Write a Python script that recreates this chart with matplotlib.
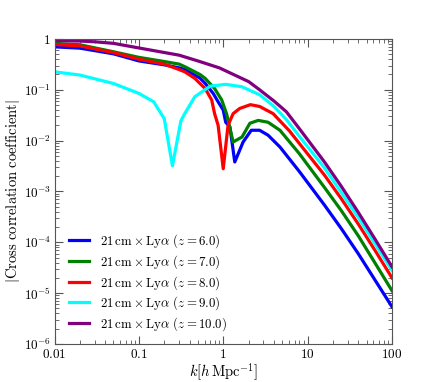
import numpy as np
import matplotlib
matplotlib.use("Agg")
import matplotlib.pyplot as plt
from matplotlib.ticker import FixedLocator, FixedFormatter, LogLocator, NullFormatter

plt.rcParams["mathtext.fontset"] = "cm"
plt.rcParams["font.family"] = "serif"
plt.rcParams["font.serif"] = ["DejaVu Serif"]

# values (|cross correlation coefficient| vs k)
k_z6 = [0.01, 0.02, 0.05, 0.1, 0.2, 0.3, 0.35, 0.53, 0.61, 0.76, 0.87, 1.0, 1.07, 1.2, 1.37,
        1.72, 2.15, 2.7, 3.4, 4.7, 7.94, 15.85, 25.1, 39.8, 63.1, 100]
cc_z6 = [0.70, 0.66, 0.51, 0.37, 0.31, 0.27, 0.25, 0.17, 0.134, 0.085, 0.058, 0.04, 0.023,
         0.0186, 0.0038, 0.0094, 0.016, 0.016, 0.0128, 0.0075, 2.5e-3, 5.4e-4, 1.86e-4,
         6.0e-5, 1.8e-5, 5.4e-6]

k_z7 = [0.01, 0.02, 0.05, 0.1, 0.2, 0.3, 0.35, 0.53, 0.61, 0.79, 0.96, 1.1, 1.31, 1.67, 2.07,
        2.6, 3.4, 4.7, 7.94, 15.85, 25.1, 39.8, 63.1, 100]
cc_z7 = [0.82, 0.77, 0.56, 0.435, 0.36, 0.32, 0.285, 0.2, 0.168, 0.106, 0.063, 0.033, 0.0094,
         0.0118, 0.022, 0.025, 0.023, 0.016, 5.6e-3, 1.2e-3, 4.2e-4, 1.35e-4, 3.9e-5, 1.12e-5]

k_z8 = [0.01, 0.02, 0.05, 0.1, 0.2, 0.3, 0.35, 0.46, 0.61, 0.73, 0.79, 0.87, 1.0, 1.14, 1.31,
        1.57, 2.1, 2.7, 3.9, 6.1, 7.94, 15.85, 25.1, 39.8, 63.1, 100]
cc_z8 = [0.78, 0.73, 0.54, 0.40, 0.32, 0.25, 0.226, 0.168, 0.106, 0.063, 0.034, 0.02, 0.0028,
         0.02, 0.034, 0.043, 0.051, 0.047, 0.034, 0.0155, 8.9e-3, 2.1e-3, 7.2e-4, 2.3e-4,
         6.9e-5, 2.0e-5]

k_z9 = [0.01, 0.02, 0.05, 0.1, 0.15, 0.2, 0.25, 0.315, 0.35, 0.46, 0.7, 1.07, 1.66, 2.7,
        4.0, 5.6, 7.94, 15.85, 25.1, 39.8, 63.1, 100]
cc_z9 = [0.226, 0.195, 0.133, 0.085, 0.058, 0.027, 0.0032, 0.0245, 0.034, 0.073, 0.118,
         0.128, 0.115, 0.08, 0.047, 0.026, 0.0123, 2.9e-3, 9.5e-4, 3.1e-4, 9.3e-5, 2.8e-5]

k_z10 = [0.01, 0.02, 0.03, 0.05, 0.12, 0.3, 0.5, 0.9, 2.0, 2.7, 4.0, 5.6, 7.94, 15.85, 25.1,
         39.8, 63.1, 100]
cc_z10 = [0.93, 0.91, 0.88, 0.82, 0.63, 0.48, 0.37, 0.27, 0.145, 0.10, 0.06, 0.037, 0.0174,
          3.8e-3, 1.26e-3, 3.9e-4, 1.15e-4, 3.3e-5]

series = [
    (k_z6, cc_z6, "blue", "6.0"),
    (k_z7, cc_z7, "green", "7.0"),
    (k_z8, cc_z8, "red", "8.0"),
    (k_z9, cc_z9, "cyan", "9.0"),
    (k_z10, cc_z10, "purple", "10.0"),
]

x_ticks = [0.01, 0.1, 1, 10, 100]
x_labels = [r"$0.01$", r"$0.1$", r"$1$", r"$10$", r"$100$"]
y_ticks = [1e-6, 1e-5, 1e-4, 1e-3, 1e-2, 1e-1, 1]
y_labels = [r"$10^{-6}$", r"$10^{-5}$", r"$10^{-4}$", r"$10^{-3}$", r"$10^{-2}$",
            r"$10^{-1}$", r"$1$"]

fig = plt.figure(figsize=(4.36, 3.82), dpi=100)
ax = fig.add_axes([0.125, 0.0995, 0.774, 0.7985])

for k, cc, color, z in series:
    ax.plot(k, cc, color=color, lw=2.3,
            label=r"$21\,\mathrm{cm}\times\mathrm{Ly}\alpha\ (z=%s)$" % z)

ax.set_xscale("log")
ax.set_yscale("log")
ax.set_xlim(0.01, 100)
ax.set_ylim(1e-6, 1)

ax.xaxis.set_major_locator(FixedLocator(x_ticks))
ax.xaxis.set_major_formatter(FixedFormatter(x_labels))
ax.yaxis.set_major_locator(FixedLocator(y_ticks))
ax.yaxis.set_major_formatter(FixedFormatter(y_labels))
ax.xaxis.set_minor_locator(LogLocator(base=10, subs=np.arange(2, 10), numticks=20))
ax.yaxis.set_minor_locator(LogLocator(base=10, subs=np.arange(2, 10), numticks=20))
ax.xaxis.set_minor_formatter(NullFormatter())
ax.yaxis.set_minor_formatter(NullFormatter())

ax.tick_params(which="both", direction="in", top=True, right=True, labelsize=9.5,
               color="#555555")
ax.tick_params(axis="x", pad=3)
ax.tick_params(axis="y", pad=2.5)
ax.tick_params(which="major", length=6)
ax.tick_params(which="minor", length=3)
for sp in ax.spines.values():
    sp.set_color("#555555")

ax.set_xlabel(r"$k[h\,\mathrm{Mpc}^{-1}]$", fontsize=10.5, labelpad=0)
ax.set_ylabel(r"$|\mathrm{Cross\ correlation\ coefficient}|$", fontsize=10.5, labelpad=1)

ax.legend(loc="lower left", frameon=False, fontsize=9.3, handlelength=1.5,
          labelspacing=0.24, handletextpad=0.9, bbox_to_anchor=(0.01, -0.003))

fig.savefig("out.png", dpi=100)
